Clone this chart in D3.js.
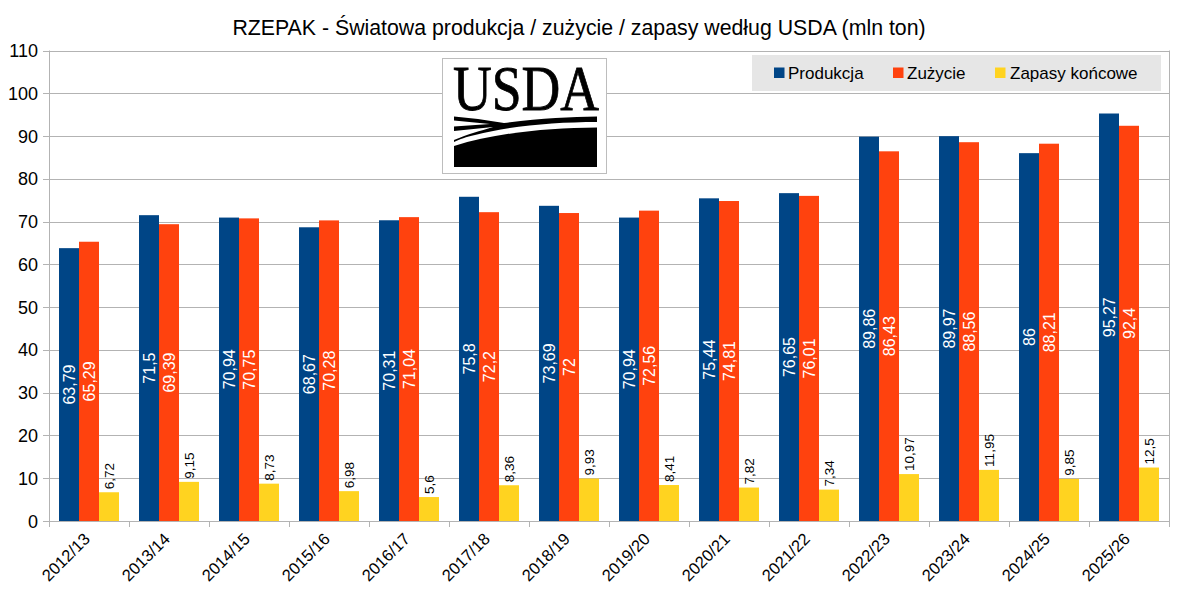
<!DOCTYPE html>
<html><head><meta charset="utf-8">
<script src="https://cdn.jsdelivr.net/npm/d3@7"></script>
<style>html,body{margin:0;padding:0;background:#fff}svg{display:block}text{font-family:"Liberation Sans",sans-serif;fill:#000}</style>
</head><body><svg id="c" width="1179" height="598"></svg>
<script>
const title = "RZEPAK - Światowa produkcja / zużycie / zapasy według USDA (mln ton)";
const categories = ["2012/13","2013/14","2014/15","2015/16","2016/17","2017/18","2018/19","2019/20","2020/21","2021/22","2022/23","2023/24","2024/25","2025/26"];
const produkcja = [63.79,71.5,70.94,68.67,70.31,75.8,73.69,70.94,75.44,76.65,89.86,89.97,86,95.27];
const zuzycie = [65.29,69.39,70.75,70.28,71.04,72.2,72,72.56,74.81,76.01,86.43,88.56,88.21,92.4];
const zapasy = [6.72,9.15,8.73,6.98,5.6,8.36,9.93,8.41,7.82,7.34,10.97,11.95,9.85,12.5];
const seriesNames = ["Produkcja","Zużycie","Zapasy końcowe"];
const seriesColors = ["#004586","#ff420e","#ffd320"];
const yTicks = [0,10,20,30,40,50,60,70,80,90,100,110];

const svg = d3.select("#c");
const L=49,R=1169,T=50.5,B=521;
const x = d3.scaleBand().domain(categories).range([L,R]);
const y = d3.scaleLinear().domain([0,110]).range([B,T]);
const inner = d3.scaleBand().domain(d3.range(3)).range([10,70]);
const grid="#b3b3b3";
const fmt = v => String(v).replace(".",",");

svg.append("text").attr("x",579).attr("y",34.5).attr("text-anchor","middle").attr("font-size",21.3).text(title);

// grid
svg.append("g").selectAll("line").data(yTicks).join("line")
 .attr("x1",43).attr("x2",R).attr("y1",d=>Math.round(y(d))+.5).attr("y2",d=>Math.round(y(d))+.5)
 .attr("stroke",grid).attr("stroke-width",1);
svg.append("line").attr("x1",L+.5).attr("x2",L+.5).attr("y1",T).attr("y2",B+6).attr("stroke",grid);
svg.append("line").attr("x1",R+.5).attr("x2",R+.5).attr("y1",T).attr("y2",B+6).attr("stroke",grid);
svg.append("g").selectAll("line").data(categories).join("line")
 .attr("x1",d=>x(d)+.5).attr("x2",d=>x(d)+.5).attr("y1",B).attr("y2",B+6).attr("stroke",grid);

svg.append("g").selectAll("text").data(yTicks).join("text")
 .attr("x",38).attr("y",d=>y(d)+6.5).attr("text-anchor","end").attr("font-size",18).text(d=>d);

// bars
[produkcja,zuzycie,zapasy].forEach((vals,s)=>{
  const g=svg.append("g");
  g.selectAll("rect").data(vals).join("rect")
   .attr("x",(d,i)=>x(categories[i])+inner(s)).attr("width",inner.bandwidth())
   .attr("y",d=>y(d)).attr("height",d=>B-y(d)).attr("fill",seriesColors[s]);
  g.selectAll("text").data(vals).join("text")
   .attr("text-anchor",s==2?"start":"middle")
   .attr("font-size",s==2?13.5:16)
   .style("fill",s==2?"#000":"#fff")
   .attr("transform",(d,i)=>{
     const cx=x(categories[i])+inner(s)+inner.bandwidth()/2;
     return s==2?`translate(${cx+4.5},${y(d)-3}) rotate(-90)`:`translate(${cx+5.5},${y(d/2)}) rotate(-90)`;
   }).text(fmt);
});

// x labels
svg.append("g").selectAll("text").data(categories).join("text")
 .attr("text-anchor","end").attr("font-size",16.5)
 .attr("transform",d=>`translate(${x(d)+x.bandwidth()/2+2},${B+19}) rotate(-45)`)
 .text(d=>d);

// logo
const logo=svg.append("g");
logo.append("rect").attr("x",442.5).attr("y",58.5).attr("width",164).attr("height",115).attr("fill","#fff").attr("stroke","#bdbdbd");
logo.append("text").attr("x",453).attr("y",110).attr("font-size",64).attr("textLength",146).attr("lengthAdjust","spacingAndGlyphs")
 .attr("stroke","#000").attr("stroke-width",.8)
 .style("font-family","'Liberation Serif',serif").text("USDA");
logo.append("path").attr("fill","#000").attr("d","M454 146 C495 133 545 128 597 127.5 L597 167 L454 167 Z");
logo.append("path").attr("fill","#000").attr("d","M454 116.5 L478 119 L504 123 C540 118 570 117 597 116.5 L597 122 C555 122 510 126 475 135 C466 137 460 139 454 142 L454 140 C468 134 480 131 493 127 L454 131 L454 126.5 L490 124 L454 120.5 Z");

// legend
svg.append("rect").attr("x",752).attr("y",55).attr("width",409).attr("height",36).attr("fill","#e6e6e6");
const lx=[774,893,995], tx=[788,907,1010];
const lg=svg.append("g");
lg.selectAll("rect").data(seriesNames).join("rect")
 .attr("x",(d,i)=>lx[i]).attr("y",67.5).attr("width",10.5).attr("height",10.5).attr("fill",(d,i)=>seriesColors[i]);
lg.selectAll("text").data(seriesNames).join("text")
 .attr("x",(d,i)=>tx[i]).attr("y",79).attr("font-size",17).text(d=>d);
</script></body></html>
